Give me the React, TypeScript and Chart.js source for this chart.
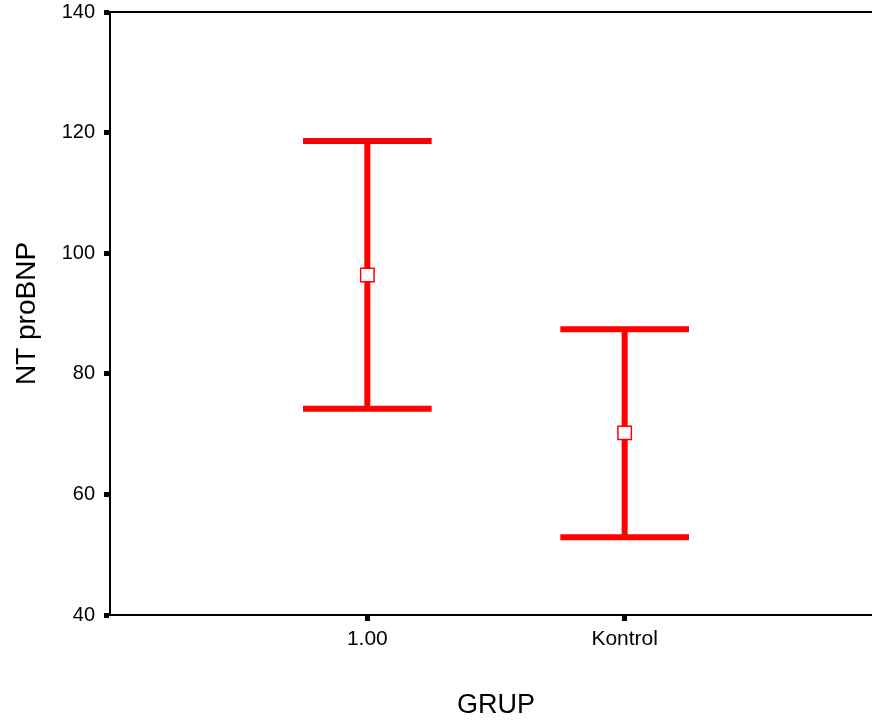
import React, { useEffect, useRef } from 'react';
import { Chart, registerables } from 'chart.js';

Chart.register(...registerables);

// ---- data ----
const groups = ['1.00', 'Kontrol'];
const groupPos = [1, 2];
const means = [96.4, 70.2];
const upper = [118.6, 87.4];
const lower = [74.2, 52.9];
const yTicks = [40, 60, 80, 100, 120, 140];
const xRange = [0, 3];

const FONT = '"Liberation Sans", Arial, Helvetica, sans-serif';
const RED = '#ff0000';

const errorBarPlugin = {
  id: 'errorBars',
  beforeDatasetsDraw(chart: any) {
    const { ctx, scales } = chart;
    const x = scales.x;
    const y = scales.y;
    const capHalf = 0.25 * (x.getPixelForValue(1) - x.getPixelForValue(0));
    ctx.save();
    ctx.strokeStyle = RED;
    ctx.lineWidth = 6;
    ctx.lineCap = 'butt';
    groupPos.forEach((g, i) => {
      const px = x.getPixelForValue(g);
      const pu = y.getPixelForValue(upper[i]);
      const pl = y.getPixelForValue(lower[i]);
      ctx.beginPath();
      ctx.moveTo(px, pu);
      ctx.lineTo(px, pl);
      ctx.moveTo(px - capHalf, pu);
      ctx.lineTo(px + capHalf, pu);
      ctx.moveTo(px - capHalf, pl);
      ctx.lineTo(px + capHalf, pl);
      ctx.stroke();
    });
    ctx.restore();
  },
};

const topFramePlugin = {
  id: 'topFrame',
  afterDraw(chart: any) {
    const { ctx, chartArea } = chart;
    ctx.save();
    ctx.strokeStyle = '#000';
    ctx.lineWidth = 2;
    ctx.beginPath();
    ctx.moveTo(chartArea.left - 1, chartArea.top);
    ctx.lineTo(chart.width, chartArea.top);
    ctx.stroke();
    ctx.restore();
  },
};

export default function App() {
  const ref = useRef<HTMLCanvasElement | null>(null);

  useEffect(() => {
    if (!ref.current) return;
    const chart = new Chart(ref.current, {
      type: 'scatter',
      data: {
        datasets: [
          {
            data: groupPos.map((g, i) => ({ x: g, y: means[i] })),
            pointStyle: 'rect',
            pointRadius: 9.5,
            pointHoverRadius: 9.5,
            borderColor: RED,
            backgroundColor: '#ffffff',
            borderWidth: 1.5,
            showLine: false,
          } as any,
        ],
      },
      options: {
        animation: false,
        responsive: false,
        devicePixelRatio: 1,
        layout: { autoPadding: false, padding: { top: 12, left: 0, right: 0, bottom: 0 } },
        plugins: {
          legend: { display: false },
          tooltip: { enabled: false },
        },
        events: [],
        scales: {
          x: {
            type: 'linear',
            min: xRange[0],
            max: xRange[1],
            afterFit: (s: any) => {
              s.height = 111;
              s.paddingLeft = 0;
              s.paddingRight = 0;
            },
            afterBuildTicks: (s: any) => {
              s.ticks = groupPos.map((v) => ({ value: v }));
            },
            ticks: {
              callback: (v: any) => {
                const i = groupPos.indexOf(Number(v));
                return i >= 0 ? groups[i] : '';
              },
              font: { family: FONT, size: 21 },
              color: '#000',
              padding: 6,
              maxRotation: 0,
              autoSkip: false,
            },
            grid: {
              drawOnChartArea: false,
              drawTicks: true,
              tickLength: 6,
              tickWidth: 5,
              tickColor: '#000',
            },
            border: { display: true, color: '#000', width: 2 },
            title: {
              display: true,
              text: 'GRUP',
              color: '#000',
              font: { family: FONT, size: 27 },
              padding: { top: 0, bottom: 4 },
            },
          },
          y: {
            type: 'linear',
            min: 40,
            max: 140,
            afterFit: (s: any) => {
              s.width = 110;
              s.paddingTop = 0;
              s.paddingBottom = 0;
            },
            afterBuildTicks: (s: any) => {
              s.ticks = yTicks.map((v) => ({ value: v }));
            },
            ticks: {
              callback: (v: any) => String(v),
              font: { family: FONT, size: 20, lineHeight: 1 },
              color: '#000',
              padding: 9,
            },
            grid: {
              drawOnChartArea: false,
              drawTicks: true,
              tickLength: 6,
              tickWidth: 5,
              tickColor: '#000',
            },
            border: { display: true, color: '#000', width: 2 },
            title: {
              display: true,
              text: 'NT proBNP',
              color: '#000',
              font: { family: FONT, size: 28 },
              padding: { top: 10, bottom: 0 },
            },
          },
        },
      },
      plugins: [errorBarPlugin, topFramePlugin],
    } as any);
    return () => chart.destroy();
  }, []);

  return (
    <div
      style={{
        position: 'absolute',
        left: 0,
        top: 0,
        width: 872,
        height: 726,
        overflow: 'hidden',
        background: '#ffffff',
      }}
    >
      <div style={{ width: 882, height: 726 }}>
        <canvas ref={ref} width={882} height={726} style={{ display: 'block' }} />
      </div>
    </div>
  );
}
